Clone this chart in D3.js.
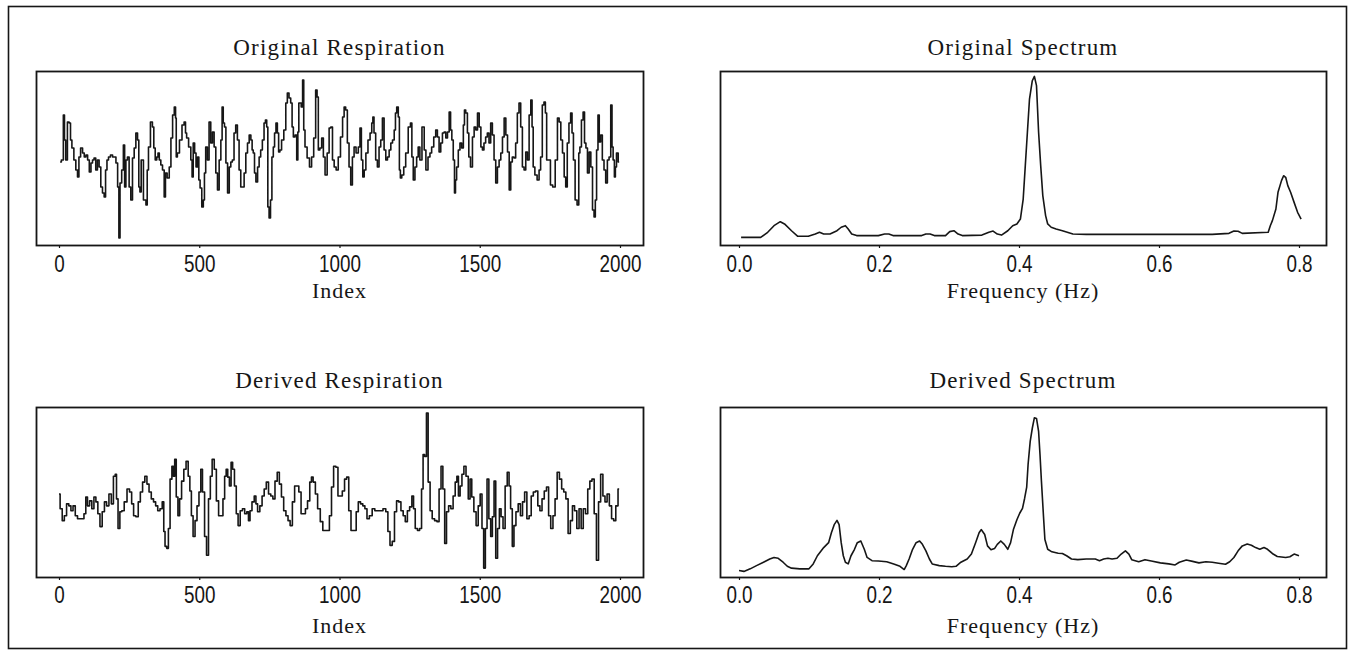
<!DOCTYPE html>
<html>
<head>
<meta charset="utf-8">
<script src="https://cdn.jsdelivr.net/npm/d3@7"></script>
<style>
  html, body { margin: 0; padding: 0; background: #fff; }
  svg { display: block; }
</style>
</head>
<body>
<svg id="chart" width="1353" height="651"></svg>
<script>
// ---- Data -------------------------------------------------------------
// Respiration traces: [sample index, amplitude (a.u.)]
const originalRespiration = [
  [4,-4],[13,-2],[18,43],[21,18],[27,-2],[33,36],[39,35],[43,18],[49,10],[57,-2],[63,-12],[69,-19],[73,1],[81,10],[87,5],[93,1],[99,3],[105,-2],[111,-14],[117,-5],[122,-2],[128,0],[134,-12],[140,-2],[146,-9],[152,-29],[158,-35],[164,-39],[168,-12],[174,-2],[179,1],[188,3],[194,1],[200,1],[206,-5],[212,-29],[215,-80],[220,-25],[227,-12],[232,13],[236,-29],[241,-2],[247,1],[253,-29],[259,-42],[265,0],[271,10],[277,25],[283,18],[286,-29],[291,-34],[295,-2],[307,-42],[313,-47],[316,-12],[322,11],[330,36],[336,31],[340,10],[346,-2],[351,1],[355,5],[360,-2],[366,-7],[372,-12],[378,-39],[381,-15],[390,-20],[396,-9],[402,20],[408,43],[414,51],[417,40],[419,1],[425,5],[434,18],[443,33],[449,36],[453,25],[457,20],[467,11],[473,-2],[476,-19],[481,15],[486,5],[491,-9],[497,1],[500,-22],[506,-30],[512,-49],[517,-42],[520,-15],[526,11],[532,-2],[538,36],[544,15],[550,26],[556,11],[562,-15],[568,-32],[574,-2],[580,18],[583,51],[588,35],[592,31],[598,-5],[604,-35],[610,-9],[615,-4],[621,-2],[627,25],[633,33],[639,18],[645,-12],[651,-29],[657,-29],[663,-15],[669,5],[675,15],[681,23],[687,18],[690,8],[695,5],[699,-15],[705,-24],[711,-9],[716,1],[722,8],[728,18],[734,35],[738,38],[743,31],[746,-49],[752,-60],[756,-42],[762,1],[766,11],[771,25],[776,35],[781,25],[785,6],[790,8],[797,18],[806,28],[811,55],[817,65],[823,60],[829,55],[833,31],[838,21],[845,23],[850,-2],[853,26],[857,55],[861,55],[866,51],[871,78],[874,28],[880,11],[889,0],[897,-9],[904,1],[912,20],[918,68],[922,61],[927,8],[933,10],[940,20],[945,1],[952,-17],[960,5],[966,30],
  [972,31],[978,-2],[984,-9],[992,-12],[999,1],[1008,21],[1014,41],[1019,51],[1025,48],[1031,15],[1037,-9],[1043,-27],[1049,1],[1055,11],[1063,5],[1071,11],[1075,30],[1081,-2],[1085,-19],[1091,-12],[1097,5],[1106,18],[1112,25],[1118,35],[1120,41],[1126,25],[1132,-2],[1138,-9],[1144,11],[1150,18],[1156,40],[1162,8],[1168,-2],[1174,1],[1180,8],[1186,15],[1192,18],[1198,28],[1201,45],[1207,51],[1212,41],[1215,-12],[1219,-20],[1225,-17],[1233,-9],[1239,5],[1251,31],[1255,35],[1261,1],[1265,-22],[1273,-9],[1277,1],[1284,11],[1289,-2],[1299,31],[1305,8],[1311,-12],[1320,1],[1325,5],[1332,11],[1340,21],[1346,28],[1352,21],[1358,6],[1364,15],[1370,25],[1376,26],[1382,20],[1388,26],[1394,46],[1398,28],[1403,18],[1408,-2],[1412,-35],[1415,-22],[1420,-9],[1427,8],[1432,15],[1439,10],[1444,33],[1447,48],[1453,45],[1459,25],[1463,1],[1471,-9],[1477,21],[1483,31],[1489,28],[1495,45],[1501,31],[1507,11],[1512,8],[1518,15],[1524,21],[1530,25],[1536,15],[1542,35],[1548,23],[1554,-2],[1560,-25],[1566,-9],[1572,-2],[1578,5],[1584,21],[1590,40],[1596,23],[1602,6],[1608,-32],[1613,-4],[1619,1],[1625,0],[1631,15],[1637,45],[1643,55],[1649,31],[1655,-9],[1661,-12],[1667,6],[1673,-2],[1679,43],[1685,58],[1688,31],[1693,-9],[1700,-17],[1709,-22],[1714,-12],[1720,1],[1726,53],[1732,56],[1736,45],[1741,-2],[1748,-2],[1756,-27],[1764,-29],[1774,-2],[1780,40],[1786,36],[1792,18],[1798,5],[1804,-19],[1809,-29],[1815,15],[1821,35],[1827,45],[1831,25],[1837,-2],[1843,-42],[1851,-47],[1855,5],[1859,11],[1866,38],[1871,46],[1876,15],[1881,10],[1887,-15],[1893,6],[1899,-9],[1905,-52],[1910,-59],[1914,-42],[1919,8],[1924,43],[1928,16],[1934,23],[1940,-2],[1946,-12],[1952,-25],[1958,-2],[1964,1],[1970,53],[1973,11],[1978,-2],[1982,-19],[1985,-9],[1990,5],[1997,-4]
];

const derivedRespiration = [
  [0,-2],[8,-17],[15,-29],[23,-24],[31,-12],[39,-14],[46,-19],[54,-14],[62,-24],[70,-27],[85,-27],[93,-22],[98,-5],[105,-14],[113,-9],[121,-17],[128,-5],[135,-10],[142,-22],[150,-35],[158,-20],[166,-10],[173,-14],[183,-2],[190,-12],[198,16],[203,18],[207,-7],[214,-37],[220,-20],[228,-19],[237,-10],[248,3],[255,0],[263,-12],[269,-24],[279,-25],[286,-10],[294,0],[302,10],[310,16],[317,8],[325,0],[333,-7],[341,-10],[348,-14],[356,-19],[364,-17],[372,-10],[375,-40],[381,-55],[387,-57],[393,-37],[399,13],[406,26],[410,16],[415,33],[421,-5],[427,-24],[433,-7],[441,11],[449,23],[457,31],[464,16],[469,1],[475,-24],[481,-45],[489,-29],[495,-14],[503,0],[508,23],[515,0],[523,-45],[529,-64],[537,-7],[542,16],[550,33],[557,23],[565,-9],[573,-24],[581,-24],[588,-7],[593,16],[599,23],[604,15],[611,6],[616,30],[622,23],[629,6],[635,-22],[642,-34],[650,-19],[658,-17],[666,-22],[673,-20],[678,-29],[684,-19],[692,-10],[700,-4],[704,-12],[712,-20],[720,-14],[728,-4],[735,3],[743,10],[751,-2],[759,-4],[766,-7],[774,11],[782,20],[789,8],[797,-5],[805,-19],[813,-24],[820,-29],[828,-34],[836,-10],[844,6],[851,6],[859,0],[867,-22],[875,-22],[882,-17],[890,-9],[898,10],[902,15],[910,10],[918,-2],[926,-17],[937,-30],[944,-39],[960,-39],[968,-24],[975,5],[983,26],[991,25],[998,-4],[1006,-4],[1014,1],[1022,13],[1029,15],[1037,-19],[1045,-39],[1056,-39],[1063,-20],[1071,-10],[1079,-12],[1087,-14],[1094,-17],[1102,-27],[1111,-24],[1122,-17],[1130,-19],[1138,-19],[1149,-19],[1161,-17],[1169,-20],[1176,-40],[1184,-54],[1192,-50],[1200,-20],[1207,-9],[1215,-10],[1223,-19],[1231,-24],[1238,-30],[1246,-19],[1254,-15],[1262,-4],[1266,-17],[1274,-37],[1282,-39],[1289,-37],[1296,3],[1300,38],[1307,36],[1313,80],[1319,10],[1327,-19],[1334,-27],[1344,-29],[1351,-30],[1359,3],[1365,26],[1372,3],[1378,-52],[1385,-20],[1393,-14],[1401,-17],[1409,-4],[1416,10],[1421,16],[1427,-4],[1433,6],[1440,18],[1447,26],[1455,16],[1463,-7],[1468,13],[1475,-5],[1483,-20],[1491,-34],[1498,-14],[1505,-2],[1511,-37],[1517,-77],[1523,-37],[1529,13],[1536,-27],[1542,-45],[1548,-25],[1554,11],[1560,-67],[1567,-37],[1573,-17],[1579,-25],[1587,-37],[1594,6],[1602,20],[1607,6],[1613,-17],[1619,-55],[1625,-34],[1633,-20],[1641,-12],[1649,-24],[1656,-10],[1664,0],[1672,-27],[1680,-24],[1687,-4],[1695,0],[1703,1],[1711,-14],[1718,-19],[1726,-7],[1734,1],[1742,5],[1749,-24],[1757,-37],[1765,-24],[1772,-7],[1780,20],[1788,13],[1796,3],[1803,0],[1811,-7],[1819,-42],[1827,-29],[1834,-14],[1842,-19],[1850,-37],[1858,-17],[1865,-37],[1873,-17],[1881,-22],[1889,3],[1896,11],[1904,13],[1912,-22],[1920,-69],[1927,-10],[1935,18],[1943,-4],[1950,-10],[1958,-2],[1966,-14],[1974,-27],[1981,-29],[1989,-14],[1997,3]
];

// Power spectra: [frequency (Hz), relative power]
const originalSpectrum = [
  [0.003,0.044],[0.031,0.044],[0.041,0.073],[0.050,0.111],[0.059,0.134],[0.065,0.121],[0.075,0.082],[0.084,0.050],[0.099,0.050],[0.109,0.063],[0.115,0.073],[0.121,0.063],[0.130,0.063],[0.140,0.082],[0.146,0.102],[0.152,0.111],[0.156,0.092],[0.161,0.063],[0.168,0.054],[0.199,0.054],[0.208,0.063],[0.214,0.063],[0.220,0.054],[0.261,0.054],[0.267,0.063],[0.273,0.063],[0.279,0.054],[0.295,0.054],[0.301,0.077],[0.307,0.082],[0.313,0.063],[0.319,0.054],[0.347,0.057],[0.357,0.073],[0.363,0.080],[0.369,0.063],[0.375,0.057],[0.384,0.082],[0.391,0.111],[0.397,0.121],[0.402,0.149],[0.406,0.264],[0.409,0.456],[0.412,0.648],[0.415,0.839],[0.419,0.944],[0.422,0.969],[0.425,0.916],[0.428,0.648],[0.431,0.456],[0.434,0.284],[0.438,0.169],[0.441,0.121],[0.446,0.102],[0.453,0.092],[0.462,0.082],[0.477,0.063],[0.496,0.061],[0.521,0.061],[0.583,0.061],[0.645,0.061],[0.676,0.061],[0.700,0.067],[0.707,0.080],[0.713,0.079],[0.719,0.067],[0.756,0.073],[0.759,0.111],[0.762,0.140],[0.767,0.207],[0.770,0.303],[0.775,0.370],[0.778,0.398],[0.781,0.389],[0.784,0.341],[0.788,0.303],[0.793,0.245],[0.798,0.188],[0.803,0.149]
];

const derivedSpectrum = [
  [0.000,0.038],[0.007,0.033],[0.016,0.048],[0.025,0.067],[0.035,0.087],[0.044,0.106],[0.050,0.115],[0.056,0.110],[0.063,0.087],[0.069,0.063],[0.075,0.052],[0.087,0.048],[0.100,0.048],[0.106,0.077],[0.112,0.125],[0.121,0.173],[0.128,0.202],[0.132,0.260],[0.136,0.308],[0.140,0.333],[0.143,0.308],[0.146,0.202],[0.149,0.125],[0.152,0.087],[0.156,0.077],[0.160,0.125],[0.165,0.163],[0.169,0.202],[0.174,0.212],[0.179,0.163],[0.183,0.115],[0.190,0.096],[0.199,0.094],[0.211,0.090],[0.221,0.077],[0.230,0.063],[0.236,0.044],[0.239,0.067],[0.243,0.106],[0.248,0.163],[0.253,0.202],[0.258,0.212],[0.262,0.192],[0.267,0.154],[0.272,0.106],[0.276,0.077],[0.286,0.067],[0.295,0.063],[0.304,0.060],[0.310,0.063],[0.317,0.087],[0.326,0.106],[0.332,0.135],[0.338,0.202],[0.343,0.260],[0.346,0.279],[0.351,0.250],[0.355,0.183],[0.360,0.160],[0.365,0.167],[0.369,0.192],[0.374,0.212],[0.379,0.192],[0.384,0.163],[0.388,0.202],[0.392,0.279],[0.397,0.337],[0.401,0.375],[0.405,0.404],[0.408,0.462],[0.411,0.529],[0.413,0.663],[0.416,0.798],[0.419,0.875],[0.422,0.937],[0.425,0.933],[0.428,0.856],[0.430,0.721],[0.432,0.567],[0.435,0.356],[0.437,0.221],[0.441,0.163],[0.447,0.148],[0.456,0.140],[0.462,0.138],[0.468,0.125],[0.475,0.106],[0.484,0.102],[0.496,0.106],[0.509,0.106],[0.515,0.096],[0.521,0.106],[0.527,0.110],[0.533,0.106],[0.540,0.110],[0.546,0.135],[0.552,0.154],[0.557,0.135],[0.561,0.102],[0.571,0.090],[0.580,0.102],[0.589,0.094],[0.602,0.083],[0.614,0.077],[0.623,0.071],[0.629,0.087],[0.639,0.100],[0.648,0.092],[0.657,0.083],[0.667,0.090],[0.676,0.087],[0.685,0.081],[0.695,0.075],[0.701,0.090],[0.707,0.115],[0.713,0.154],[0.719,0.183],[0.726,0.194],[0.732,0.187],[0.738,0.173],[0.744,0.163],[0.750,0.173],[0.755,0.163],[0.763,0.135],[0.769,0.121],[0.781,0.115],[0.787,0.119],[0.793,0.135],[0.800,0.125]
];

const panelTitles = ["Original Respiration", "Original Spectrum", "Derived Respiration", "Derived Spectrum"];
const axisTitles = ["Index", "Frequency (Hz)"];
const indexTicks = [0, 500, 1000, 1500, 2000];
const frequencyTicks = [0.0, 0.2, 0.4, 0.6, 0.8];

// ---- Layout -----------------------------------------------------------
const ink = "#161616";
const svg = d3.select("#chart");

// outer frame
svg.append("rect")
  .attr("x", 8.5).attr("y", 6.5)
  .attr("width", 1338).attr("height", 642)
  .attr("fill", "none").attr("stroke", ink).attr("stroke-width", 1.6);

const columns = [
  { x0: 36, x1: 643, r0: 59, r1: 620 },
  { x0: 720, x1: 1326, r0: 739, r1: 1299 }
];
const rows = [
  { y0: 71, y1: 245, title: 55, tick: 27, label: 298 },
  { y0: 407, y1: 577, title: 388, tick: 26, label: 633 }
];

const panels = [
  { row: 0, col: 0, title: panelTitles[0], label: axisTitles[0], data: originalRespiration,
    xDomain: [0, 2000], yDomain: [-87, 87], ticks: indexTicks, fmt: d3.format("d"), curve: d3.curveStep },
  { row: 0, col: 1, title: panelTitles[1], label: axisTitles[1], data: originalSpectrum,
    xDomain: [0, 0.8], yDomain: [0, 1], ticks: frequencyTicks, fmt: d3.format(".1f"), curve: d3.curveLinear },
  { row: 1, col: 0, title: panelTitles[2], label: axisTitles[0], data: derivedRespiration,
    xDomain: [0, 2000], yDomain: [-86, 86], ticks: indexTicks, fmt: d3.format("d"), curve: d3.curveStep },
  { row: 1, col: 1, title: panelTitles[3], label: axisTitles[1], data: derivedSpectrum,
    xDomain: [0, 0.8], yDomain: [0, 1], ticks: frequencyTicks, fmt: d3.format(".1f"), curve: d3.curveLinear }
];

const serif = "'Liberation Serif', 'Times New Roman', serif";
const sans = "'Liberation Sans', Arial, sans-serif";

panels.forEach(p => {
  const c = columns[p.col], r = rows[p.row];
  const g = svg.append("g");
  const x = d3.scaleLinear().domain(p.xDomain).range([c.r0, c.r1]);
  const y = d3.scaleLinear().domain(p.yDomain).range([r.y1, r.y0]);

  // trace
  g.append("path")
    .datum(p.data)
    .attr("fill", "none")
    .attr("stroke", ink)
    .attr("stroke-width", 1.6)
    .attr("stroke-linejoin", "round")
    .attr("d", d3.line().x(d => x(d[0])).y(d => y(d[1])).curve(p.curve));

  // plot frame
  g.append("rect")
    .attr("x", c.x0 + 0.5).attr("y", r.y0 + 0.5)
    .attr("width", c.x1 - c.x0).attr("height", r.y1 - r.y0)
    .attr("fill", "none").attr("stroke", ink).attr("stroke-width", 1.8);

  // bottom axis
  const ax = g.append("g")
    .attr("transform", `translate(0,${r.y1})`)
    .call(d3.axisBottom(x).tickValues(p.ticks).tickFormat(p.fmt).tickSize(3).tickSizeOuter(0));
  ax.select(".domain").remove();
  ax.attr("font-family", sans).attr("font-size", 23);
  ax.selectAll(".tick line").attr("stroke", ink).attr("stroke-width", 1.2);
  ax.selectAll(".tick text")
    .attr("fill", ink)
    .attr("y", r.tick).attr("dy", null)
    .attr("transform", "scale(0.82,1)");

  // title and axis label
  g.append("text")
    .attr("x", (c.x0 + c.x1) / 2).attr("y", r.title)
    .attr("text-anchor", "middle")
    .attr("font-family", serif).attr("font-size", 23)
    .attr("letter-spacing", 1.2)
    .attr("fill", ink)
    .text(p.title);

  g.append("text")
    .attr("x", (c.x0 + c.x1) / 2).attr("y", r.label)
    .attr("text-anchor", "middle")
    .attr("font-family", serif).attr("font-size", 22)
    .attr("letter-spacing", 1.0)
    .attr("fill", ink)
    .text(p.label);
});
</script>
</body>
</html>
